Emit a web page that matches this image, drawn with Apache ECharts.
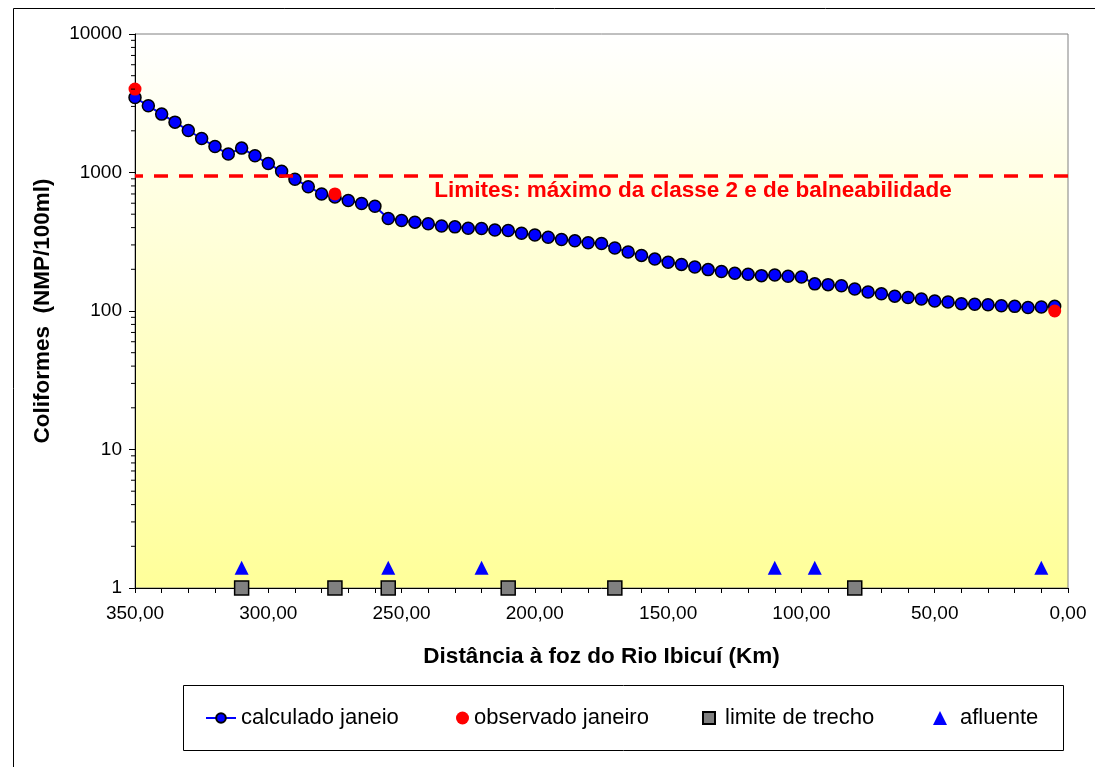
<!DOCTYPE html>
<html>
<head>
<meta charset="utf-8">
<script src="https://cdn.jsdelivr.net/npm/echarts@6/dist/echarts.min.js"></script>
<style>
html,body{margin:0;padding:0;background:#fff;}
#chart{width:1095px;height:767px;}
</style>
</head>
<body>
<div id="chart"></div>
<script>
// distance to river mouth (km)
var distKm = [350,345,340,335,330,325,320,315,310,305,300,295,290,285,280,275,270,265,260,255,
  250,245,240,235,230,225,220,215,210,205,200,195,190,185,180,175,170,165,160,155,
  150,145,140,135,130,125,120,115,110,105,100,95,90,85,80,75,70,65,60,55,
  50,45,40,35,30,25,20,15,10,5];
// calculated coliforms, January (NMP/100ml)
var calculado = [3480,3030,2640,2310,2010,1760,1540,1360,1500,1320,1160,1020,895,790,700,665,628,597,571,465,
  450,438,427,411,405,396,394,385,381,364,354,341,328,321,311,307,285,267,252,237,
  225,217,208,199,193,187,184,180,182,178,176,157,155,152,144,137,133,128,125,122,
  118,116,113,112,111,109,108,106,107,108];
// observed, January
var obsKm = [350,275,5];
var obsVal = [4000,700,100];
// reach limits
var limKm = [310,275,255,210,170,80];
var limVal = [1,1,1,1,1,1];
// tributaries
var aflKm = [310,255,220,110,95,10];
var aflVal = [1.4,1.4,1.4,1.4,1.4,1.4];
// limit line
var limiteClasse2 = 950;
var limiteTexto = 'Limites: máximo da classe 2 e de balneabilidade';
// axis ticks
var yMinorTicks = [2,3,4,5,6,7,8,9,20,30,40,50,60,70,80,90,200,300,400,500,600,700,800,900,2000,3000,4000,5000,6000,7000,8000,9000];
var names = ['calculado janeio','observado janeiro','limite de trecho','afluente'];

var FONT = '"Liberation Sans", Arial, sans-serif';

function pairs(xs, ys){ return xs.map(function(x,i){ return [x, ys[i]]; }); }

var chart = echarts.init(document.getElementById('chart'), null, {renderer:'canvas'});
var option = {
  animation:false,
  backgroundColor:'#ffffff',
  textStyle:{fontFamily:FONT},
  grid:{
    left:135, right:27, top:34, bottom:179,
    show:true,
    borderColor:'#808080', borderWidth:1,
    backgroundColor:{type:'linear',x:0,y:0,x2:0,y2:1,colorStops:[{offset:0,color:'#FFFFFF'},{offset:1,color:'#FFFF99'}]}
  },
  xAxis:{
    type:'value', min:0, max:350, interval:50, inverse:true,
    name:'Distância à foz do Rio Ibicuí (Km)', nameLocation:'middle', nameGap:57,
    nameTextStyle:{fontFamily:FONT,fontSize:22.5,fontWeight:'bold',color:'#000'},
    axisLine:{show:true,onZero:false,lineStyle:{color:'#000',width:1}},
    axisTick:{show:true,length:5,lineStyle:{color:'#000'}},
    minorTick:{show:true,splitNumber:5,length:5,lineStyle:{color:'#000'}},
    splitLine:{show:false},
    axisLabel:{fontFamily:FONT,fontSize:19,color:'#000',margin:16,
      formatter:function(v){ return v.toFixed(2).replace('.',','); }}
  },
  yAxis:{
    type:'log', logBase:10, min:1, max:10000, position:'left',
    name:'Coliformes  (NMP/100ml)', nameLocation:'middle', nameGap:81,
    nameTextStyle:{fontFamily:FONT,fontSize:22.5,fontWeight:'bold',color:'#000'},
    axisLine:{show:true,onZero:false,lineStyle:{color:'#000',width:1}},
    axisTick:{show:true,length:6,lineStyle:{color:'#000'}},
    splitLine:{show:false},
    axisLabel:{fontFamily:FONT,fontSize:19,color:'#000',margin:13,
      formatter:function(v){ return String(Math.round(v)); }}
  },
  legend:[
    {data:[names[0]], left:205, top:707, padding:0, itemWidth:30, itemHeight:12,
      textStyle:{fontFamily:FONT,fontSize:22,color:'#000'}},
    {data:[names[1]], left:456, top:707, padding:0, itemWidth:13, itemHeight:13,
      textStyle:{fontFamily:FONT,fontSize:22,color:'#000'}},
    {data:[names[2]], left:702, top:707, padding:0, itemWidth:12, itemHeight:12,
      textStyle:{fontFamily:FONT,fontSize:22,color:'#000',padding:[0,0,0,5]}},
    {data:[names[3]], left:933, top:707, padding:0, itemWidth:14, itemHeight:14,
      textStyle:{fontFamily:FONT,fontSize:22,color:'#000',padding:[0,0,0,8]}}
  ],
  series:[
    {
      // minor log ticks on the y axis, placed through the axis scale
      name:'minorTicks', type:'custom', silent:true, clip:false, z:10,
      data:yMinorTicks.map(function(v){ return [350, v]; }),
      renderItem:function(params, api){
        var p = api.coord([api.value(0), api.value(1)]);
        return {type:'line', shape:{x1:p[0]-4, y1:p[1], x2:p[0], y2:p[1]},
                style:{stroke:'#000', lineWidth:1}};
      }
    },
    {
      name:names[0], type:'line', data:pairs(distKm, calculado),
      symbol:'circle', symbolSize:12,
      lineStyle:{color:'#0000FF',width:2},
      itemStyle:{color:'#0000FF',borderColor:'#000',borderWidth:1.5},
      z:2,
      markLine:{
        silent:true, symbol:['none','none'], label:{show:false},
        lineStyle:{color:'#FF0000',type:[14,11],width:3.5},
        data:[{yAxis:limiteClasse2}]
      }
    },
    {
      name:names[1], type:'scatter', data:pairs(obsKm, obsVal), clip:false,
      symbol:'circle', symbolSize:13,
      itemStyle:{color:'#FF0000',opacity:1}, z:6
    },
    {
      name:names[2], type:'scatter', data:pairs(limKm, limVal), clip:false,
      symbol:'rect', symbolSize:14,
      itemStyle:{color:'#808080',borderColor:'#000',borderWidth:1.5,opacity:1}, z:6
    },
    {
      name:names[3], type:'scatter', data:pairs(aflKm, aflVal), clip:false,
      symbol:'triangle', symbolSize:14,
      itemStyle:{color:'#0000FF',opacity:1}, z:6
    }
  ],
  graphic:[
    {type:'rect', shape:{x:13.5,y:8.5,width:1100,height:800}, style:{fill:'none',stroke:'#000',lineWidth:1}, z:-10, silent:true},
    {type:'rect', shape:{x:183.5,y:685.5,width:880,height:65}, style:{fill:'none',stroke:'#000',lineWidth:1}, z:-10, silent:true},
    {type:'text', x:693, y:191, z:100, silent:true,
      style:{text:limiteTexto, font:'bold 22.5px '+FONT, fill:'#FF0000', align:'center', verticalAlign:'middle'}}
  ]
};
chart.setOption(option);
</script>
</body>
</html>
